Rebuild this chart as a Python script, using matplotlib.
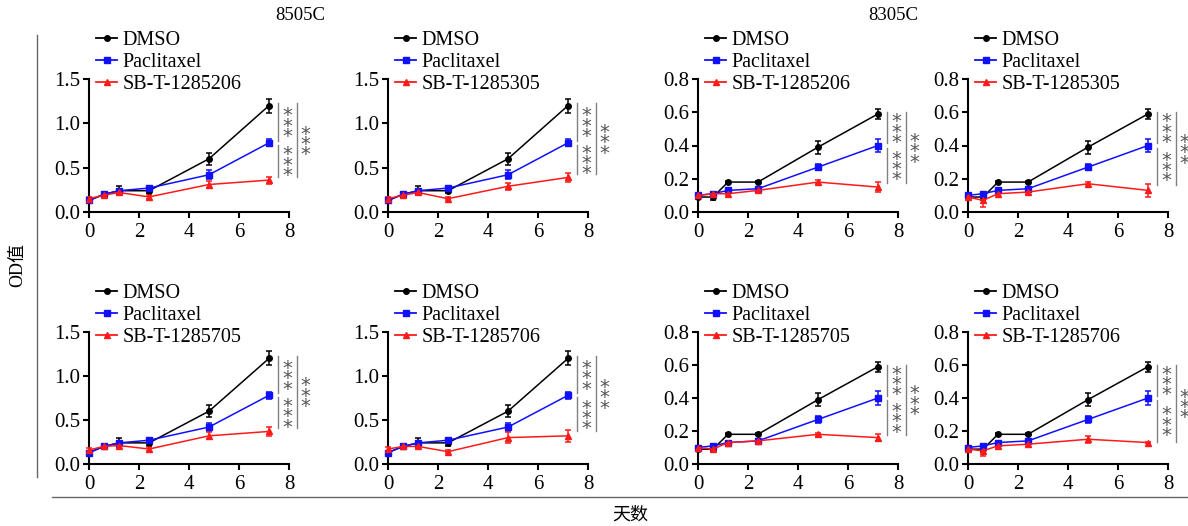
import matplotlib
matplotlib.use("Agg")
import matplotlib.pyplot as plt
from matplotlib.lines import Line2D

plt.rcParams['font.family'] = ['Liberation Serif', 'Noto Sans CJK SC']

days = [0, 0.6, 1.2, 2.4, 4.8, 7.2]
compounds = ["SB-T-1285206", "SB-T-1285305", "SB-T-1285705", "SB-T-1285706"]
cell_lines = ["8505C", "8305C"]

# 8505C
dmso_8505 = [0.13, 0.20, 0.24, 0.24, 0.60, 1.20]
dmso_8505_err = [0.02, 0.02, 0.05, 0.03, 0.07, 0.08]
pac_8505 = [0.13, 0.20, 0.24, 0.27, 0.42, 0.78]
pac_8505_err = [0.02, 0.02, 0.02, 0.02, 0.05, 0.04]
sb_8505 = {
    "SB-T-1285206": [0.15, 0.19, 0.22, 0.17, 0.31, 0.36],
    "SB-T-1285305": [0.15, 0.19, 0.22, 0.15, 0.29, 0.39],
    "SB-T-1285705": [0.16, 0.20, 0.21, 0.17, 0.32, 0.37],
    "SB-T-1285706": [0.17, 0.20, 0.20, 0.14, 0.30, 0.32],
}
sb_8505_err = {
    "SB-T-1285206": [0.02, 0.02, 0.03, 0.02, 0.04, 0.04],
    "SB-T-1285305": [0.02, 0.02, 0.03, 0.02, 0.04, 0.05],
    "SB-T-1285705": [0.02, 0.02, 0.03, 0.02, 0.04, 0.05],
    "SB-T-1285706": [0.02, 0.02, 0.03, 0.02, 0.06, 0.07],
}

# 8305C
dmso_8305 = [0.09, 0.09, 0.18, 0.18, 0.39, 0.59]
dmso_8305_err = [0.01, 0.02, 0.005, 0.005, 0.04, 0.03]
pac_8305 = [0.10, 0.11, 0.13, 0.14, 0.27, 0.40]
pac_8305_err = [0.01, 0.01, 0.01, 0.01, 0.02, 0.04]
sb_8305 = {
    "SB-T-1285206": [0.10, 0.11, 0.11, 0.13, 0.18, 0.15],
    "SB-T-1285305": [0.09, 0.07, 0.11, 0.12, 0.17, 0.13],
    "SB-T-1285705": [0.10, 0.09, 0.13, 0.14, 0.18, 0.16],
    "SB-T-1285706": [0.09, 0.08, 0.11, 0.12, 0.15, 0.13],
}
sb_8305_err = {
    "SB-T-1285206": [0.01, 0.01, 0.01, 0.01, 0.01, 0.03],
    "SB-T-1285305": [0.01, 0.04, 0.01, 0.01, 0.01, 0.04],
    "SB-T-1285705": [0.01, 0.02, 0.01, 0.01, 0.01, 0.02],
    "SB-T-1285706": [0.01, 0.03, 0.01, 0.01, 0.02, 0.005],
}

W, H = 1188, 526
fig = plt.figure(figsize=(W / 100, H / 100), dpi=100)

lefts_px = [89, 388, 698, 968]
width_px = 200
rows = [(212, 79), (464, 332)]  # (y of 0, y of top) in px

colors = {"DMSO": "black", "Paclitaxel": "#1010ff", "SB": "#ff1a1a"}
markers = {"DMSO": "o", "Paclitaxel": "s", "SB": "^"}
sig_color = "#808080"


def stars(ax, x, ymid):
    ax.annotate("*\n*\n*", xy=(x, ymid), xycoords="data",
                xytext=(0, -3), textcoords="offset points",
                color="#555555", fontsize=14, family="DejaVu Sans",
                ha="center", va="center", linespacing=0.42,
                annotation_clip=False)


def draw_panel(ax, dmso, dmso_e, pac, pac_e, sb, sb_e, label, ymax, yticks):
    handles = []
    for vals, err, key, lab in [(dmso, dmso_e, "DMSO", "DMSO"),
                                (pac, pac_e, "Paclitaxel", "Paclitaxel"),
                                (sb, sb_e, "SB", label)]:
        ax.errorbar(days, vals, yerr=err, color=colors[key], marker=markers[key],
                    markersize=4, lw=1.1, elinewidth=1.1, capsize=2.5, capthick=1.1,
                    clip_on=False, zorder=3)
        handles.append(Line2D([], [], color=colors[key], marker=markers[key],
                              markersize=4, lw=1.3, label=lab))
    ax.set_xlim(0, 8)
    ax.set_ylim(0, ymax)
    ax.set_xticks([0, 2, 4, 6, 8])
    ax.set_yticks(yticks)
    ax.set_yticklabels([f"{t:.1f}" for t in yticks])
    for s in ["top", "right"]:
        ax.spines[s].set_visible(False)
    for s in ["left", "bottom"]:
        ax.spines[s].set_linewidth(1.5)
    ax.tick_params(direction="out", width=1.5, length=4, labelsize=15, pad=2)
    ax.tick_params(axis="x", pad=4)
    # significance
    top = dmso[-1] + dmso_e[-1] * 0.3
    mid = pac[-1]
    bot = sb[-1] + sb_e[-1] * 0.8
    gap = ymax * 0.016
    ax.plot([7.56, 7.56], [top, mid + gap], color=sig_color, lw=1, clip_on=False)
    ax.plot([7.56, 7.56], [mid - gap, bot], color=sig_color, lw=1, clip_on=False)
    ax.plot([8.32, 8.32], [top, bot], color=sig_color, lw=1, clip_on=False)
    stars(ax, 7.92, (top + mid + gap) / 2)
    stars(ax, 7.92, (mid - gap + bot) / 2)
    stars(ax, 8.64, (top + bot) / 2)
    ax.legend(handles=handles, loc="lower left", bbox_to_anchor=(0.035, 0.885),
              frameon=False, fontsize=14.5, handlelength=1.05, handletextpad=0.25,
              labelspacing=0.14, borderpad=0, borderaxespad=0)


for r, (y0, y1) in enumerate(rows):
    for c, lp in enumerate(lefts_px):
        comp = compounds[(c % 2) + 2 * r]
        ax = fig.add_axes([lp / W, 1 - y0 / H, width_px / W, (y0 - y1) / H])
        if c < 2:
            draw_panel(ax, dmso_8505, dmso_8505_err, pac_8505, pac_8505_err,
                       sb_8505[comp], sb_8505_err[comp], comp, 1.5, [0.0, 0.5, 1.0, 1.5])
        else:
            draw_panel(ax, dmso_8305, dmso_8305_err, pac_8305, pac_8305_err,
                       sb_8305[comp], sb_8305_err[comp], comp, 0.8, [0.0, 0.2, 0.4, 0.6, 0.8])

fig.text(300 / W, 1 - 16 / H, cell_lines[0], ha="center", va="center", fontsize=13.5)
fig.text(893 / W, 1 - 16 / H, cell_lines[1], ha="center", va="center", fontsize=13.5)
fig.add_artist(Line2D([37 / W, 37 / W], [1 - 35 / H, 1 - 477 / H], color="#666666", lw=1))
fig.add_artist(Line2D([52 / W, 1.0], [1 - 497 / H, 1 - 497 / H], color="#666666", lw=1))
fig.text(630 / W, 1 - 515 / H, "天数", ha="center", va="center", fontsize=13,
         family=["Noto Sans CJK SC"])
fig.text(18 / W, 1 - 265 / H, "OD值", ha="center", va="center", fontsize=13,
         rotation=90, family=["Liberation Serif", "Noto Sans CJK SC"])

fig.savefig("out.png", dpi=100)
